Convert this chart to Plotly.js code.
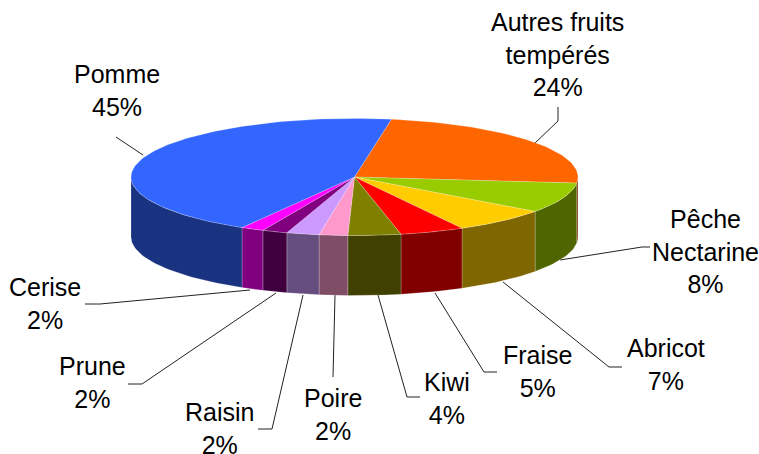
<!DOCTYPE html>
<html>
<head>
<meta charset="utf-8">
<script src="https://cdn.plot.ly/plotly-3.0.1.min.js"></script>
<style>html,body{margin:0;padding:0;background:#fff}#chart{width:759px;height:454px}</style>
</head>
<body>
<div id="chart"></div>
<script>
// Data, clockwise from the first slice
const categories = ["Autres fruits<br>tempérés","Pêche<br>Nectarine","Abricot","Fraise","Kiwi","Poire","Raisin","Prune","Cerise","Pomme"];
const shownPercent = [24,8,7,5,4,2,2,2,2,45];
const shares = [24.03,8.36,6.99,4.65,3.81,2.06,2.36,1.83,1.67,44.25];
const topColors = ["#FF6600","#99CC00","#FFCC00","#FF0000","#808000","#FF99CC","#CC99FF","#800080","#FF00FF","#3366FF"];
const sideColors = ["#803300","#4F6600","#806600","#800000","#404000","#804D66","#664D80","#400040","#800080","#1A3380"];

// Pie geometry in axis units (axes map 1:1 to pixels)
const cx = 354.5, cy = 177, rx = 223.5, ry = 58.5, depth = 60, startAngle = 9.5;
const labelPos = [[557,54],[705,251],[666,364],[537,371],[447,398],[333,414],[219,428.5],[92,382],[45,303],[117,90]];
const leaders = [
  [[558,107],[558,121],[535,143]],
  [[650,247],[642,247],[560,260]],
  [[622,367],[609,367],[503,282]],
  [[497,372],[484,372],[435,293]],
  [[420,397],[407,397],[378,295]],
  [[333,377],[335,295]],
  [[258,429],[272,429],[303,295]],
  [[128,384],[142,384],[276,293]],
  [[85,304],[100,304],[250,290]],
  [[116,137],[143,155]]
];

const px = t => cx + rx*Math.sin(t*Math.PI/180);
const py = t => cy - ry*Math.cos(t*Math.PI/180);
function arc(a,b){const pts=[];const n=Math.max(2,Math.ceil(Math.abs(b-a)/1.5));for(let i=0;i<=n;i++){pts.push(a+(b-a)*i/n);}return pts;}

const total = shares.reduce((s,v)=>s+v,0);
const walls = [], tops = [];
const edge = 'rgba(255,255,255,0.3)';
let a0 = startAngle;
shares.forEach((v,i)=>{
  const a1 = a0 + v/total*360;
  // top face
  const t = arc(a0,a1);
  tops.push({type:'scatter',mode:'lines',fill:'toself',fillcolor:topColors[i],
    line:{color:edge,width:0.7},hoverinfo:'skip',showlegend:false,
    x:[cx].concat(t.map(px),[cx]),y:[cy].concat(t.map(py),[cy])});
  // visible wall
  const w0 = Math.max(a0,90), w1 = Math.min(a1,270);
  if(w1>w0){
    const w = arc(w0,w1);
    walls.push({type:'scatter',mode:'lines',fill:'toself',fillcolor:sideColors[i],
      line:{color:edge,width:0.7},hoverinfo:'skip',showlegend:false,
      x:w.map(px).concat(w.slice().reverse().map(px),[px(w0)]),
      y:w.map(py).concat(w.slice().reverse().map(q=>py(q)+depth),[py(w0)])});
  }
  a0 = a1;
});

const leaderTraces = leaders.map(p=>({type:'scatter',mode:'lines',
  x:p.map(q=>q[0]),y:p.map(q=>q[1]),line:{color:'#222',width:1},hoverinfo:'skip',showlegend:false}));

const annotations = categories.map((c,i)=>({
  x:labelPos[i][0],y:labelPos[i][1],xref:'x',yref:'y',xanchor:'center',yanchor:'middle',
  text:c+'<br>'+shownPercent[i]+'%',showarrow:false,align:'center',
  font:{family:'"Liberation Sans",Arial,sans-serif',size:25,color:'#000'}
}));

Plotly.newPlot('chart',leaderTraces.concat(walls,tops),{
  width:759,height:454,margin:{l:0,r:0,t:0,b:0},
  paper_bgcolor:'#fff',plot_bgcolor:'#fff',showlegend:false,
  xaxis:{range:[0,759],visible:false,fixedrange:true},
  yaxis:{range:[454,0],visible:false,fixedrange:true},
  annotations:annotations
},{displayModeBar:false,staticPlot:true});
</script>
</body>
</html>
